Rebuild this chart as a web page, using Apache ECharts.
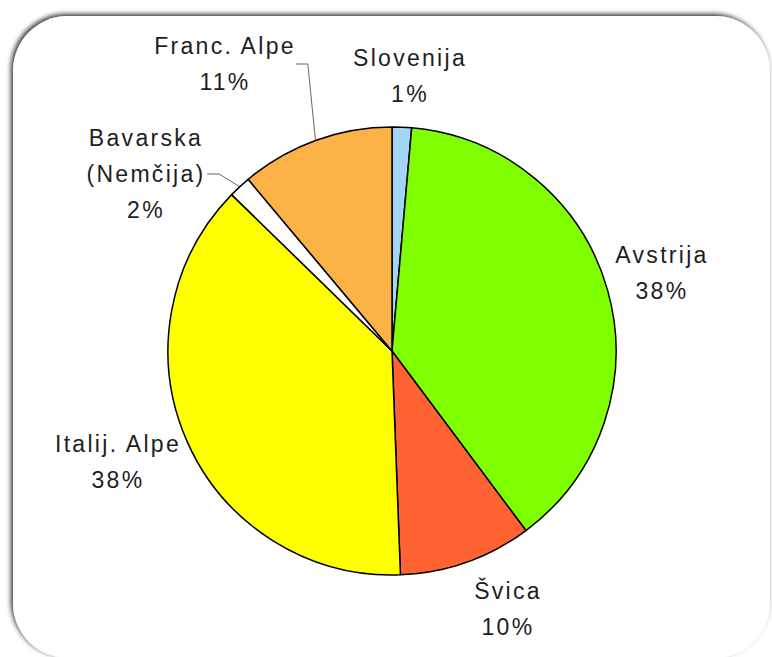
<!DOCTYPE html>
<html>
<head>
<meta charset="utf-8">
<script src="https://cdn.jsdelivr.net/npm/echarts@6/dist/echarts.min.js"></script>
<style>
  html, body { margin: 0; padding: 0; background: #fff; }
  #chart { width: 772px; height: 657px; }
  #chart text { letter-spacing: 2.3px; }
</style>
</head>
<body>
<div id="chart"></div>
<script>
// Share of Alpine regions (percent), clockwise from 12 o'clock
const regions = ['Slovenija', 'Avstrija', 'Švica', 'Italij. Alpe', 'Bavarska\n(Nemčija)', 'Franc. Alpe'];
const shares  = [1.4, 38.4, 9.6, 37.9, 1.6, 11.1];
const colors  = ['#a3d6f5', '#80ff00', '#ff6333', '#ffff00', '#ffffff', '#fdb247'];
const withLeader = [false, false, false, false, true, true];

// label block centres (x, y) in pixels
const labelPos = [
  [410, 76],
  [662, 273],
  [508, 609],
  [118, 462],
  [146, 174],
  [225, 64]
];

const chart = echarts.init(document.getElementById('chart'), null, { renderer: 'svg' });

chart.setOption({
  animation: false,
  graphic: [{
    type: 'rect',
    z: -10,
    shape: { x: 13, y: 16, width: 757, height: 642, r: 55 },
    style: {
      fill: '#fff',
      shadowBlur: 5,
      shadowColor: 'rgba(0,0,0,0.8)',
      shadowOffsetX: -2,
      shadowOffsetY: -2
    },
    silent: true
  }],
  series: [{
    type: 'pie',
    center: [392, 351],
    radius: 224,
    startAngle: 90,
    clockwise: true,
    avoidLabelOverlap: false,
    itemStyle: { borderColor: '#000', borderWidth: 1.5 },
    label: {
      show: true,
      position: 'outside',
      fontFamily: 'Liberation Sans, Arial, sans-serif',
      fontSize: 23,
      color: '#1e1e1e',
      lineHeight: 36,
      align: 'center',
      // side padding keeps leader lines clear of the letter-spaced text
      padding: [0, 12],
      formatter: p => p.name + '\n' + Math.round(p.percent) + '%'
    },
    labelLine: {
      show: false,
      length: 12,
      length2: 12,
      lineStyle: { color: '#666', width: 1 }
    },
    labelLayout: p => ({
      x: labelPos[p.dataIndex][0],
      y: labelPos[p.dataIndex][1],
      align: 'center',
      verticalAlign: 'middle'
    }),
    data: regions.map((name, i) => ({
      name: name,
      value: shares[i],
      itemStyle: { color: colors[i] },
      labelLine: { show: withLeader[i] }
    }))
  }]
});
</script>
</body>
</html>
